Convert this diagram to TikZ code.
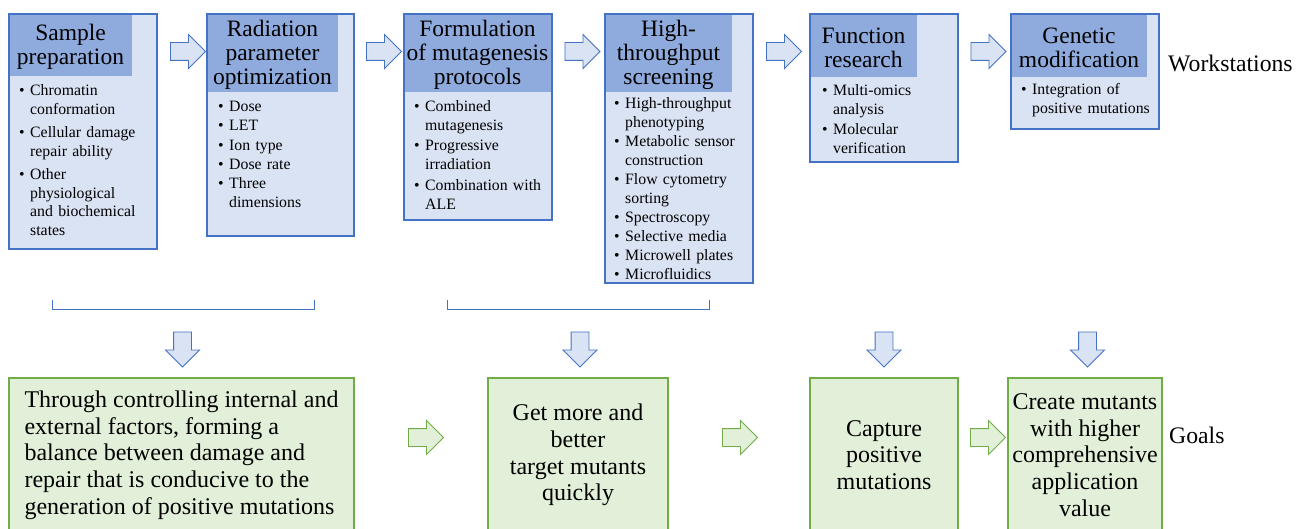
\documentclass[tikz,border=0pt]{standalone}
\usepackage{fontspec}
\setmainfont{Liberation Serif}
\usetikzlibrary{shapes.arrows,calc}
\definecolor{bline}{RGB}{68,114,196}
\definecolor{bhead}{RGB}{143,170,220}
\definecolor{blight}{RGB}{218,227,243}
\definecolor{gline}{RGB}{112,173,71}
\definecolor{glight}{RGB}{226,240,217}
\newcommand\bbody[1]{\noindent\makebox[11pt][l]{\textbullet}\parbox[t]{122pt}{\raggedright\strut#1\strut}}
\newcommand\bfirst[1]{\bbody{#1}}
\newcommand\bitem[1]{\par\prevdepth=\dp\strutbox\bbody{#1}}
\newcommand\psk[1]{\setlength{\parskip}{#1pt}}
\begin{document}
\begin{tikzpicture}[x=1pt,y=-1pt,
  wbox/.style={draw=bline,line width=1.2pt,fill=blight,anchor=north west,inner sep=0pt,outer sep=0pt},
  whead/.style={fill=bhead,anchor=north west,inner sep=0pt,outer sep=0pt},
  htext/.style={inner sep=0pt,align=center,font=\fontsize{23.5}{24}\selectfont},
  wlist/.style={anchor=base west,inner sep=0pt,text width=136pt,align=left,font=\fontsize{15.8}{18.7}\selectfont},
  gbox/.style={draw=gline,line width=1.2pt,fill=glight,anchor=north west,inner sep=0pt,outer sep=0pt,font=\fontsize{24}{26.7}\selectfont},
  barrow/.style={single arrow,draw=bline,fill=blight,line width=0.9pt,minimum height=35pt,inner xsep=0pt,inner ysep=8.5pt,single arrow head extend=8pt},
  garrow/.style={barrow,draw=gline,fill=glight},
  bracket/.style={draw=bline,line width=1pt},
  side/.style={anchor=base west,inner sep=0pt,font=\fontsize{23.7}{26}\selectfont}]
\clip (0,0) rectangle (1305,529);
\fill[white] (0,0) rectangle (1305,529);
% workstation boxes
\node[wbox,minimum width=148pt,minimum height=235pt] (b1) at (9,14) {};
\node[wbox,minimum width=147pt,minimum height=222pt] (b2) at (207,14) {};
\node[wbox,minimum width=148pt,minimum height=206pt] (b3) at (404,14) {};
\node[wbox,minimum width=148pt,minimum height=269pt] (b4) at (605,14) {};
\node[wbox,minimum width=148pt,minimum height=148pt] (b5) at (810,14) {};
\node[wbox,minimum width=148pt,minimum height=115pt] (b6) at (1011,14) {};
% headers
\node[whead,minimum width=123pt,minimum height=62pt] (h1) at (b1.north west) {};
\node[whead,minimum width=131pt,minimum height=78pt] (h2) at (b2.north west) {};
\node[whead,minimum width=147pt,minimum height=78pt] (h3) at (b3.north west) {};
\node[whead,minimum width=127pt,minimum height=78pt] (h4) at (b4.north west) {};
\node[whead,minimum width=107pt,minimum height=63pt] (h5) at (b5.north west) {};
\node[whead,minimum width=136pt,minimum height=63pt] (h6) at (b6.north west) {};
\foreach \n in {b1,b2,b3,b4,b5,b6}
  \draw[bline,line width=1.2pt] (\n.north west) rectangle (\n.south east);
\node[htext] (t1) at ([yshift=-2pt]h1.center) {Sample\\preparation};
\node[htext] (t2) at ([yshift=-1.5pt]h2.center) {Radiation\\parameter\\optimization};
\node[htext] (t3) at ([yshift=-1.5pt]h3.center) {Formulation\\of mutagenesis\\protocols};
\node[htext] (t4) at ([yshift=-1.5pt]h4.center) {High-\\throughput\\screening};
\node[htext] (t5) at ([yshift=-2pt]h5.center) {Function\\research};
\node[htext] (t6) at ([yshift=-2pt]h6.center) {Genetic\\modification};
% bullet lists
\node[wlist] (l1) at (19,95.6) {\psk{4.5}\bfirst{Chromatin\\conformation}\bitem{Cellular damage\\repair ability}\bitem{Other\\physiological\\and biochemical\\states}};
\node[wlist] (l2) at (218,111.6) {\psk{0.6}\bfirst{Dose}\bitem{LET}\bitem{Ion type}\bitem{Dose rate}\bitem{Three\\dimensions}};
\node[wlist] (l3) at (414,111.6) {\psk{2}\bfirst{Combined\\mutagenesis}\bitem{Progressive\\irradiation}\bitem{Combination with\\ALE}};
\node[wlist] (l4) at (614,108.6) {\psk{0.5}\bfirst{High-throughput\\phenotyping}\bitem{Metabolic sensor\\construction}\bitem{Flow cytometry\\sorting}\bitem{Spectroscopy}\bitem{Selective media}\bitem{Microwell plates}\bitem{Microfluidics}};
\node[wlist] (l5) at (822,95.6) {\psk{2}\bfirst{Multi-omics\\analysis}\bitem{Molecular\\verification}};
\node[wlist] (l6) at (1021,94.6) {\psk{2}\bfirst{Integration of\\positive mutations}};
% arrows between workstations
\node[barrow] (a1) at (183.5,51.5) {};
\node[barrow] (a2) at (379.5,51.5) {};
\node[barrow] (a3) at (578,51.5) {};
\node[barrow] (a4) at (779.5,51.5) {};
\node[barrow] (a5) at (984,51.5) {};
\node[side] (ws) at (1168,72) {Workstations};
% brackets
\coordinate (k1a) at (52,300);
\coordinate (k1b) at (314,300);
\coordinate (k2a) at (447,300);
\coordinate (k2b) at (709,300);
\draw[bracket] (k1a) -- ++(0,9) -| (k1b);
\draw[bracket] (k2a) -- ++(0,9) -| (k2b);
% down arrows
\node[barrow,rotate=-90] (d1) at (182.5,345) {};
\node[barrow,rotate=-90] (d2) at (580,345) {};
\node[barrow,rotate=-90] (d3) at (884,345) {};
\node[barrow,rotate=-90] (d4) at (1087.5,345) {};
% goal boxes
\node[gbox,minimum width=345pt,minimum height=154pt,align=left] (g1) at (9,378) {Through controlling internal and\\external factors, forming a\\balance between damage and\\repair that is conducive to the\\generation of positive mutations};
\node[gbox,minimum width=180pt,minimum height=154pt,align=center] (g2) at (488,378) {Get more and\\better\\target mutants\\quickly};
\node[gbox,minimum width=148pt,minimum height=154pt,align=center] (g3) at (810,378) {Capture\\positive\\mutations};
\node[gbox,minimum width=154pt,minimum height=154pt,align=center] (g4) at (1008,378) {Create mutants\\with higher\\comprehensive\\application\\value};
\node[garrow] (ga1) at (421.5,437.5) {};
\node[garrow] (ga2) at (735.5,437.5) {};
\node[garrow] (ga3) at (983.5,437.5) {};
\node[side] (gl) at (1169,443) {Goals};
\end{tikzpicture}
\end{document}
